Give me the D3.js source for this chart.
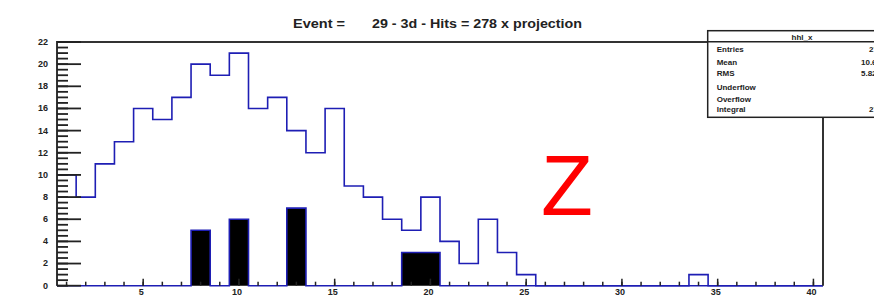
<!DOCTYPE html>
<html>
<head>
<meta charset="utf-8">
<script src="https://cdn.jsdelivr.net/npm/d3@7"></script>
<style>
  body { margin: 0; background: #fff; }
  svg { display: block; font-family: "Liberation Sans", Arial, sans-serif; }
</style>
</head>
<body>
<script>
'use strict';

// bin contents, bins of width 1 centred on 1..40
let hitsX = [10, 8, 11, 13, 16, 15, 17, 20, 19, 21, 16, 17, 14, 12, 16, 9, 8, 6, 5, 8,
             4, 2, 6, 3, 1, 0, 0, 0, 0, 0, 0, 0, 0, 1, 0, 0, 0, 0, 0, 0];
let selX = [0, 0, 0, 0, 0, 0, 0, 5, 0, 6, 0, 0, 7, 0, 0, 0, 0, 0, 3, 3,
            0, 0, 0, 0, 0, 0, 0, 0, 0, 0, 0, 0, 0, 0, 0, 0, 0, 0, 0, 0];
let xTicks = [5, 10, 15, 20, 25, 30, 35, 40];
let yTicks = [0, 2, 4, 6, 8, 10, 12, 14, 16, 18, 20, 22];
let statNames = ["Entries", "Mean", "RMS", "Underflow", "Overflow", "Integral"];
let statValues = ["278", "10.62", "5.82", "0", "0", "278"];

let svg = d3.select('body').append('svg')
  .attr('width', 874)
  .attr('height', 299);

let x = d3.scaleLinear().domain([0.5, 40.5]).range([57, 823]);
let y = d3.scaleLinear().domain([0, 22]).range([285.7, 42]);

// step outline of a histogram
function stepPoints(vals) {
  let pts = [[0.5, 0]];
  vals.forEach((v, i) => {
    pts.push([i + 0.5, v]);
    pts.push([i + 1.5, v]);
  });
  pts.push([40.5, 0]);
  return pts;
}
let line = d3.line().x((d) => x(d[0])).y((d) => y(d[1]));

let blue = '#1e1eb4';

// filled selection histogram
svg.append('path')
  .attr('d', line(stepPoints(selX)))
  .attr('fill', '#000')
  .attr('stroke', blue)
  .attr('stroke-width', 1.6);

// main histogram
svg.append('path')
  .attr('d', line(stepPoints(hitsX)))
  .attr('fill', 'none')
  .attr('stroke', blue)
  .attr('stroke-width', 1.6);

// frame (bottom edge is the histogram baseline)
svg.append('path')
  .attr('d', `M${x(0.5)},${y(0)}V${y(22)}H${x(40.5)}V${y(0)}`)
  .attr('fill', 'none')
  .attr('stroke', '#333')
  .attr('stroke-width', 2);

// y axis: minor and major ticks pointing into the frame
let yMinor = d3.axisLeft(y).tickValues(d3.range(0, 22.01, 0.5)).tickSize(-11).tickFormat('').offset(0);
let yMajor = d3.axisLeft(y).tickValues(yTicks).tickSize(-24).tickPadding(9).offset(0);
[yMinor, yMajor].forEach((ax) => {
  let g = svg.append('g')
    .attr('transform', `translate(${x(0.5)},0)`)
    .call(ax);
  g.select('.domain').remove();
  g.selectAll('line').attr('stroke', '#222').attr('stroke-width', 1.8);
  g.selectAll('text')
    .attr('font-size', 9)
    .attr('font-weight', 'bold')
    .attr('fill', '#222')
    .attr('font-family', '"Liberation Sans", Arial, sans-serif');
});

// x axis
let xMinor = d3.axisBottom(x).tickValues(d3.range(1, 41)).tickSize(-4).tickFormat('').offset(0);
let xMajor = d3.axisBottom(x).tickValues(xTicks).tickSizeInner(-7).tickSizeOuter(0).offset(0);
[xMinor, xMajor].forEach((ax) => {
  let g = svg.append('g')
    .attr('transform', `translate(0,${y(0)})`)
    .call(ax);
  g.select('.domain').remove();
  g.selectAll('line').attr('stroke', '#222').attr('stroke-width', 1.5).attr('y2', ax === xMajor ? -7 : -4);
  g.selectAll('text')
    .attr('y', 3)
    .attr('dy', '0.71em')
    .attr('dx', -2)
    .attr('font-size', 9)
    .attr('font-weight', 'bold')
    .attr('fill', '#222')
    .attr('font-family', '"Liberation Sans", Arial, sans-serif');
});

// title
svg.append('text')
  .attr('x', 293).attr('y', 28)
  .attr('font-size', 12).attr('font-weight', 'bold').attr('fill', '#222')
  .attr('textLength', 52).attr('lengthAdjust', 'spacingAndGlyphs')
  .text('Event =');
svg.append('text')
  .attr('x', 372).attr('y', 28)
  .attr('font-size', 12).attr('font-weight', 'bold').attr('fill', '#222')
  .attr('textLength', 210).attr('lengthAdjust', 'spacingAndGlyphs')
  .text('29 - 3d - Hits =  278 x projection');

// big red Z
svg.append('text')
  .attr('x', 541).attr('y', 215)
  .attr('font-size', 85)
  .attr('fill', '#ff0000')
  .text('Z');

// stats box (cut by the right edge, as in the original canvas)
let box = svg.append('g');
box.append('rect')
  .attr('x', 707.7).attr('y', 30.7)
  .attr('width', 200).attr('height', 86.6)
  .attr('fill', '#fff')
  .attr('stroke', '#222')
  .attr('stroke-width', 1.5);
box.append('line')
  .attr('x1', 707.7).attr('x2', 874)
  .attr('y1', 41.7).attr('y2', 41.7)
  .attr('stroke', '#222').attr('stroke-width', 1.5);
box.append('text')
  .attr('x', 802).attr('y', 39.5)
  .attr('text-anchor', 'middle')
  .attr('font-size', 8).attr('font-weight', 'bold').attr('fill', '#222')
  .text('hhl_x');
let rowY = [49.3, 61.7, 73.3, 86.7, 99, 109.3];
let valX = [869, 861, 861, 880, 880, 869];
statNames.forEach((name, i) => {
  box.append('text')
    .attr('x', 716.7).attr('y', rowY[i] + 3)
    .attr('font-size', 8).attr('font-weight', 'bold').attr('fill', '#222')
    .text(name);
  box.append('text')
    .attr('x', valX[i]).attr('y', rowY[i] + 3)
    .attr('font-size', 8).attr('font-weight', 'bold').attr('fill', '#222')
    .text(statValues[i]);
});
</script>
</body>
</html>
